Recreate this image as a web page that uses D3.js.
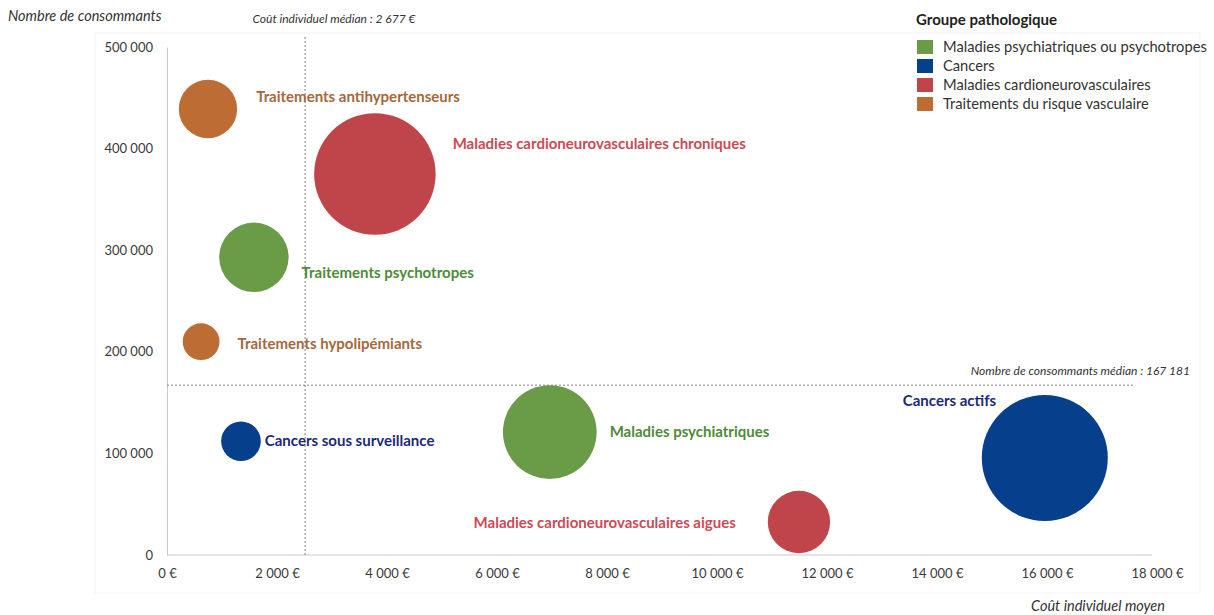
<!DOCTYPE html>
<html><head><meta charset="utf-8">
<script src="https://cdn.jsdelivr.net/npm/d3@7"></script>
<style>
body{margin:0;background:#fff;}
text{font-family:Lato,"Open Sans",sans-serif;}
</style></head>
<body><svg id="chart" width="1214" height="615"></svg>
<script>
// ---- data ----
const labels = ["Traitements antihypertenseurs","Maladies cardioneurovasculaires chroniques","Traitements psychotropes","Traitements hypolipémiants","Cancers sous surveillance","Maladies psychiatriques","Maladies cardioneurovasculaires aigues","Cancers actifs"];
const groups = ["risque","cardio","psy","risque","cancer","psy","cardio","cancer"];
const meanCost = [745, 3780, 1580, 620, 1345, 6960, 11490, 15960];      // € per consumer
const consumers = [439000, 375000, 293000, 210000, 112000, 121000, 32500, 95500];
const totalCost = [327, 1418, 463, 130, 151, 843, 373, 1525];          // M€ (bubble size)
const legendGroups = ["psy","cancer","cardio","risque"];
const legendLabels = ["Maladies psychiatriques ou psychotropes","Cancers","Maladies cardioneurovasculaires","Traitements du risque vasculaire"];
const xTicks = [0,2000,4000,6000,8000,10000,12000,14000,16000,18000];
const yTicks = [0,100000,200000,300000,400000,500000];
const medianCostLinePos = 2510;   // where the median line is drawn in the picture
const medianCostLabel = "Coût individuel médian : 2 677 €";
const medianConsumers = 167181;
const medianConsumersLabel = "Nombre de consommants médian : 167 181";

// ---- styles ----
const fill = {psy:"#6A9B47", cancer:"#063F8C", cardio:"#C0454A", risque:"#BD6C33"};
const textCol = {psy:"#4E8A38", cancer:"#1B2A78", cardio:"#CB4A55", risque:"#A5683C"};
// label placement relative to bubble edge
const labelPos = [
  {side:"right", dx:19, dy:-12, anchor:"start"},
  {side:"right", dx:17, dy:-30, anchor:"start"},
  {side:"right", dx:13, dy:15, anchor:"start"},
  {side:"right", dx:18, dy:2, anchor:"start"},
  {side:"right", dx:4, dy:0, anchor:"start"},
  {side:"right", dx:13, dy:0, anchor:"start"},
  {side:"left",  dx:-32, dy:1, anchor:"end"},
  {side:"left",  dx:-79, dy:-57, anchor:"start"}
];

const svg = d3.select("#chart");
const x = d3.scaleLinear().domain([0,18000]).range([167,1157]);
const y = d3.scaleLinear().domain([0,500000]).range([555,47]);
const r = d3.scaleSqrt().domain([0,1525]).range([0,63]);
const fmt = v => d3.format(",")(v).replace(/,/g," ");

// faint plot frame
svg.append("rect").attr("x",95).attr("y",33).attr("width",1105).attr("height",560)
  .attr("fill","none").attr("stroke","#F2F2F2");

// axes
const xAxis = svg.append("g").attr("transform","translate(0,555)")
  .call(d3.axisBottom(x).tickValues(xTicks).tickSize(0).tickPadding(14).tickFormat(d=>fmt(d)+" €"));
xAxis.select(".domain").attr("stroke","#C8C8C8").attr("d","M167,0H1152");
xAxis.selectAll("text").attr("font-size",13).attr("fill","#3a3a3a");
const yAxis = svg.append("g").attr("transform","translate(167,0)")
  .call(d3.axisLeft(y).tickValues(yTicks).tickSize(0).tickPadding(14).tickFormat(fmt));
yAxis.select(".domain").attr("stroke","#C8C8C8");
yAxis.selectAll("text").attr("font-size",13).attr("fill","#3a3a3a");

// median lines
svg.append("line").attr("x1",x(medianCostLinePos)).attr("x2",x(medianCostLinePos)).attr("y1",37).attr("y2",555)
  .attr("stroke","#808080").attr("stroke-dasharray","2,2");
svg.append("line").attr("x1",167).attr("x2",1135).attr("y1",y(medianConsumers)).attr("y2",y(medianConsumers))
  .attr("stroke","#808080").attr("stroke-dasharray","2,2");
svg.append("text").attr("x",334).attr("y",23).attr("text-anchor","middle")
  .attr("font-size",12).attr("font-style","italic").attr("fill","#333").text(medianCostLabel);
svg.append("text").attr("x",1190).attr("y",375).attr("text-anchor","end")
  .attr("font-size",12).attr("font-style","italic").attr("fill","#333").text(medianConsumersLabel);

// bubbles
const data = labels.map((l,i)=>({label:l,g:groups[i],x:meanCost[i],y:consumers[i],s:totalCost[i],p:labelPos[i]}));
svg.append("g").selectAll("circle").data(data).join("circle")
  .attr("cx",d=>x(d.x)).attr("cy",d=>y(d.y)).attr("r",d=>r(d.s))
  .attr("fill",d=>fill[d.g]);

svg.append("g").selectAll("text").data(data).join("text")
  .attr("x",d=> d.p.side==="right" ? x(d.x)+r(d.s)+d.p.dx : x(d.x)-r(d.s)+d.p.dx)
  .attr("y",d=> y(d.y)+d.p.dy)
  .attr("dy","0.35em")
  .attr("text-anchor",d=> d.p.anchor)
  .attr("font-size",15).attr("font-weight","bold")
  .attr("fill",d=>textCol[d.g]).text(d=>d.label);

// axis titles
svg.append("text").attr("x",8).attr("y",21).attr("font-size",14.5).attr("font-style","italic").attr("fill","#333").text("Nombre de consommants");
svg.append("text").attr("x",1165).attr("y",611).attr("text-anchor","end").attr("font-size",14.5).attr("font-style","italic").attr("fill","#333").text("Coût individuel moyen");

// legend
const lg = svg.append("g");
lg.append("text").attr("x",916).attr("y",25).attr("font-size",15).attr("font-weight","bold").attr("fill","#222").text("Groupe pathologique");
const items = lg.selectAll("g.it").data(legendGroups).join("g").attr("class","it")
  .attr("transform",(d,i)=>`translate(917,${47+i*19})`);
items.append("rect").attr("x",0).attr("y",-7).attr("width",16).attr("height",14).attr("fill",d=>fill[d]);
items.append("text").attr("x",26).attr("y",0).attr("dy","0.35em").attr("font-size",14.7).attr("fill","#333").text((d,i)=>legendLabels[i]);
</script></body></html>
